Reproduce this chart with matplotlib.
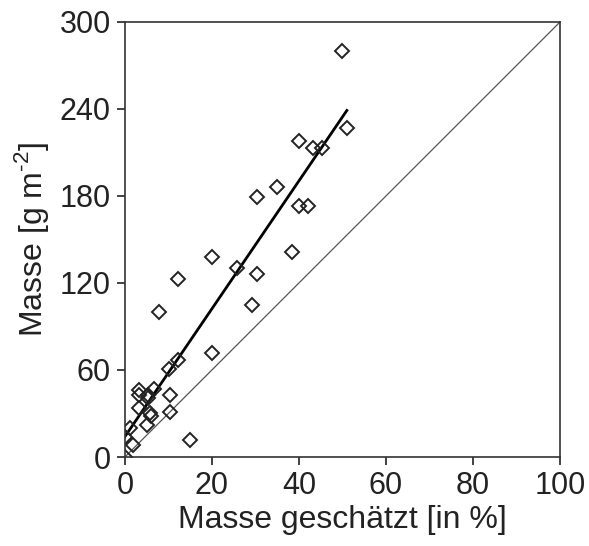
import matplotlib.pyplot as plt
import numpy as np

plt.rcParams['font.family'] = ['Liberation Sans', 'DejaVu Sans']
plt.rcParams['mathtext.fontset'] = 'custom'
plt.rcParams['mathtext.rm'] = 'Liberation Sans'

# geschaetzte Masse [%] und gemessene Masse [g m-2]
schaetzung = [49.9, 51.0, 40.0, 43.2, 45.3, 35.0, 30.3, 40.0, 42.0, 20.0,
              38.4, 25.7, 30.3, 12.2, 29.2, 7.8, 20.0, 15.0, 12.3, 10.2,
              6.7, 3.2, 3.2, 5.4, 5.4, 10.3, 3.2, 5.7, 6.1, 5.1,
              10.3, 1.1, 0.0, 1.9, 0.0]
masse = [280, 227, 218, 213, 213, 186, 179, 173, 173, 138,
         141, 130, 126, 123, 105, 100, 72, 12, 67, 61,
         47, 46, 43, 43, 41, 43, 34, 30, 28, 22,
         31, 20, 14, 8, 0]

# Regressionsgerade
reg_x = [0, 51]
reg_achsenabschnitt = 14
reg_steigung = 4.41
# Referenzlinie
ref_x = [0, 100]
ref_y = [0, 300]

fig = plt.figure(figsize=(5.89, 5.46), dpi=100)
ax = fig.add_axes([0.212, 0.163, 0.739, 0.797])

ax.plot(ref_x, ref_y, color='#555555', linewidth=0.9)
ax.plot(reg_x, [reg_achsenabschnitt + reg_steigung * v for v in reg_x],
        color='black', linewidth=2)
ax.plot(schaetzung, masse, linestyle='none', marker='D', markersize=7.2,
        markerfacecolor='none', markeredgecolor='#222222', markeredgewidth=1.4)

ax.set_xlim(0, 100)
ax.set_ylim(0, 300)
ax.set_xticks([0, 20, 40, 60, 80, 100])
ax.set_yticks([0, 60, 120, 180, 240, 300])
ax.tick_params(labelsize=22, direction='out', length=6, width=1.2,
               colors='#222222', pad=4)
for s in ax.spines.values():
    s.set_linewidth(1.2)
    s.set_color('#333333')

ax.set_xlabel('Masse geschätzt [in %]', fontsize=23, labelpad=3, color='#222222')
ax.set_ylabel('Masse [g m$^{\\mathrm{\u2010}2}$]', fontsize=23, labelpad=6,
              color='#222222')

fig.savefig('out.png')
